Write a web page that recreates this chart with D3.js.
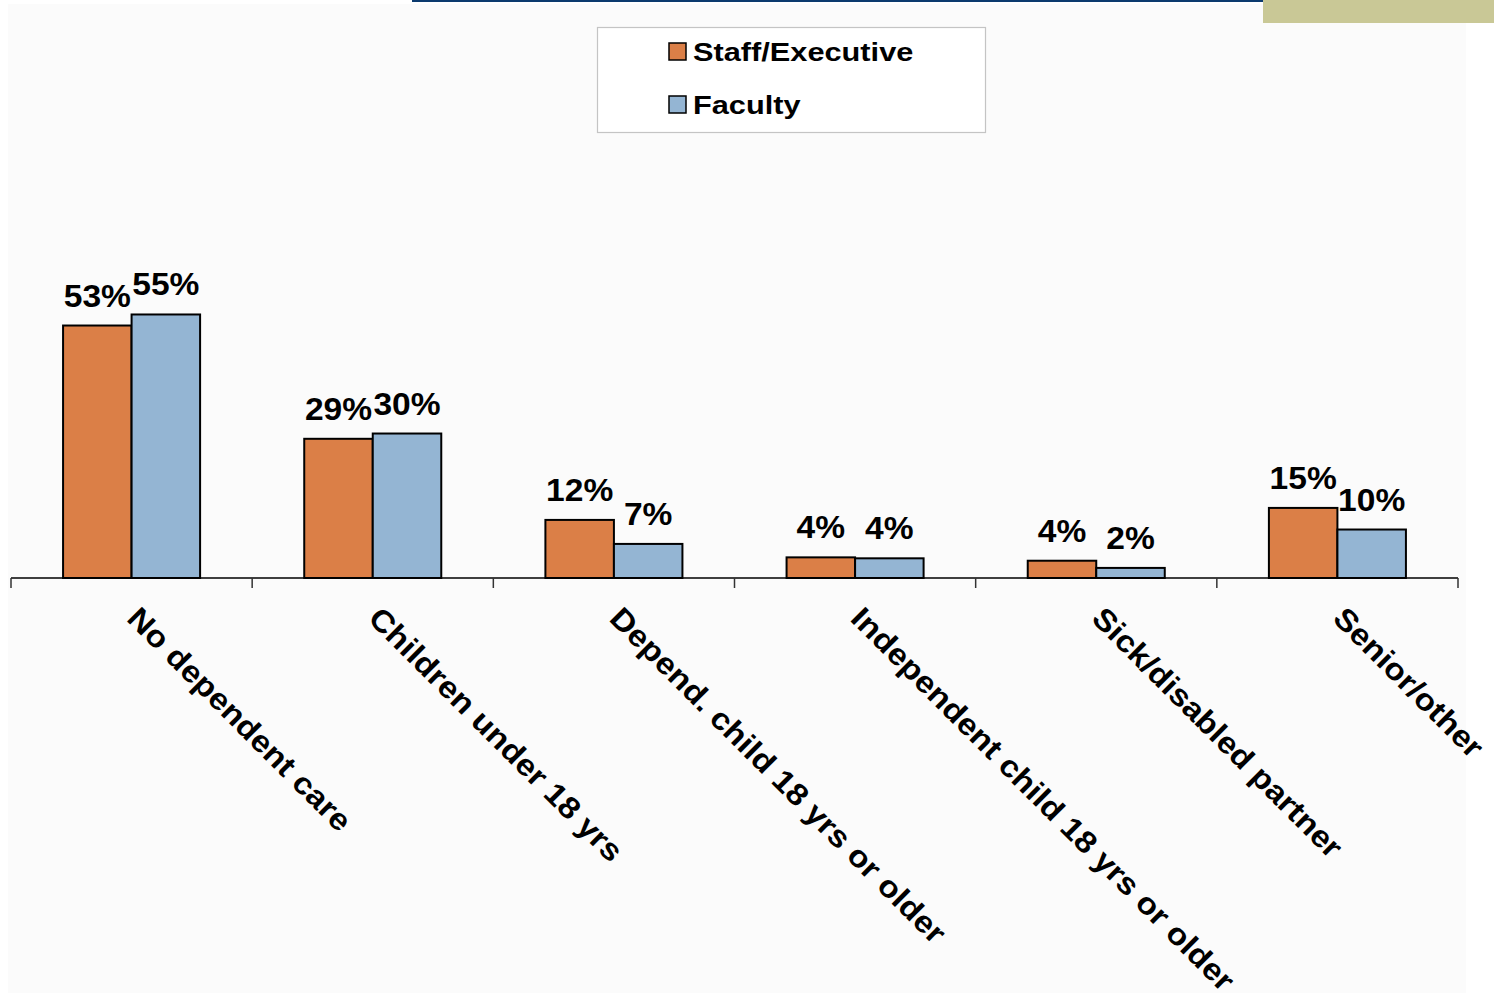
<!DOCTYPE html>
<html>
<head>
<meta charset="utf-8">
<script src="https://cdn.jsdelivr.net/npm/d3@7"></script>
<style>
  html, body { margin: 0; padding: 0; background: #ffffff; }
  svg { display: block; }
  text { font-family: "Liberation Sans", Arial, sans-serif; font-weight: bold; fill: #000; }
</style>
</head>
<body>
<svg id="chart" width="1494" height="993"></svg>
<script>
// ---- data ----
const categories = [
  "No dependent care",
  "Children under 18 yrs",
  "Depend. child 18 yrs or older",
  "Independent child 18 yrs or older",
  "Sick/disabled partner",
  "Senior/other"
];
const seriesNames = ["Staff/Executive", "Faculty"];
const staffValues   = [0.526, 0.290, 0.121, 0.043, 0.036, 0.146];
const facultyValues = [0.549, 0.301, 0.071, 0.041, 0.021, 0.101];
const staffLabels   = ["53%", "29%", "12%", "4%", "4%", "15%"];
const facultyLabels = ["55%", "30%", "7%", "4%", "2%", "10%"];
const colors = { "Staff/Executive": "#DB7F47", "Faculty": "#94B5D3" };

// ---- layout ----
const W = 1494, H = 993;
const axisY = 578;
const svg = d3.select("#chart");

// background panel
svg.append("rect").attr("x", 0).attr("y", 0).attr("width", W).attr("height", H).attr("fill", "#ffffff");
svg.append("rect").attr("x", 8).attr("y", 4).attr("width", 1458).attr("height", H - 4).attr("fill", "#fbfbfb");

// decorative header elements
svg.append("rect").attr("x", 412).attr("y", 0).attr("width", 851).attr("height", 2).attr("fill", "#0b3a6e");
svg.append("rect").attr("x", 1263).attr("y", 0).attr("width", 231).attr("height", 23).attr("fill", "#C9C896");

const x0 = d3.scaleBand().domain(categories).range([11, 1458]).paddingInner(0).paddingOuter(0);
const x1 = d3.scaleBand().domain(seriesNames).range([0, x0.bandwidth()]).paddingInner(0).paddingOuter(0.76);
const y = d3.scaleLinear().domain([0, 0.6]).range([axisY, axisY - 0.6 * 480]);

const table = categories.map((c, i) => ({
  cat: c,
  vals: [
    { s: "Staff/Executive", v: staffValues[i], label: staffLabels[i] },
    { s: "Faculty", v: facultyValues[i], label: facultyLabels[i] }
  ]
}));

const groups = svg.append("g").selectAll("g").data(table).join("g")
  .attr("transform", d => `translate(${x0(d.cat)},0)`);

groups.selectAll("rect").data(d => d.vals).join("rect")
  .attr("x", d => x1(d.s))
  .attr("y", d => y(d.v))
  .attr("width", x1.bandwidth())
  .attr("height", d => y(0) - y(d.v))
  .attr("fill", d => colors[d.s])
  .attr("stroke", "#000")
  .attr("stroke-width", 2);

groups.selectAll("text.val").data(d => d.vals).join("text")
  .attr("class", "val")
  .attr("transform", d => `translate(${x1(d.s) + x1.bandwidth() / 2},${y(d.v) - 19}) scale(1.1,1)`)
  .attr("text-anchor", "middle")
  .style("font-size", "30.5px")
  .text(d => d.label);

// x axis
const xAxisEdges = categories.map(c => x0(c)).concat([x0(categories[categories.length - 1]) + x0.bandwidth()]);
svg.append("line").attr("x1", 11).attr("x2", 1458).attr("y1", axisY).attr("y2", axisY)
  .attr("stroke", "#000").attr("stroke-width", 1.5);
svg.append("g").selectAll("line").data(xAxisEdges).join("line")
  .attr("x1", d => d).attr("x2", d => d).attr("y1", axisY).attr("y2", axisY + 10)
  .attr("stroke", "#333").attr("stroke-width", 1.5);

// category labels (rotated)
svg.append("g").selectAll("text").data(categories).join("text")
  .attr("transform", c => `translate(${x0(c) + x0.bandwidth() / 2 - 6},${axisY + 42}) rotate(45) scale(1.1,1)`)
  .attr("text-anchor", "start")
  .style("font-size", "30.5px")
  .text(c => c);

// legend
const legend = svg.append("g");
legend.append("rect").attr("x", 597.5).attr("y", 27.5).attr("width", 388).attr("height", 105)
  .attr("fill", "#ffffff").attr("stroke", "#c4c4c4").attr("stroke-width", 1.2);
const legendRows = legend.selectAll("g").data(seriesNames).join("g")
  .attr("transform", (d, i) => `translate(669,${43 + i * 53})`);
legendRows.append("rect").attr("x", 0).attr("y", 0).attr("width", 17).attr("height", 17)
  .attr("fill", d => colors[d]).attr("stroke", "#000").attr("stroke-width", 1.5);
legendRows.append("text")
  .attr("transform", "translate(24,18) scale(1.16,1)")
  .style("font-size", "26.5px")
  .text(d => d);
</script>
</body>
</html>
